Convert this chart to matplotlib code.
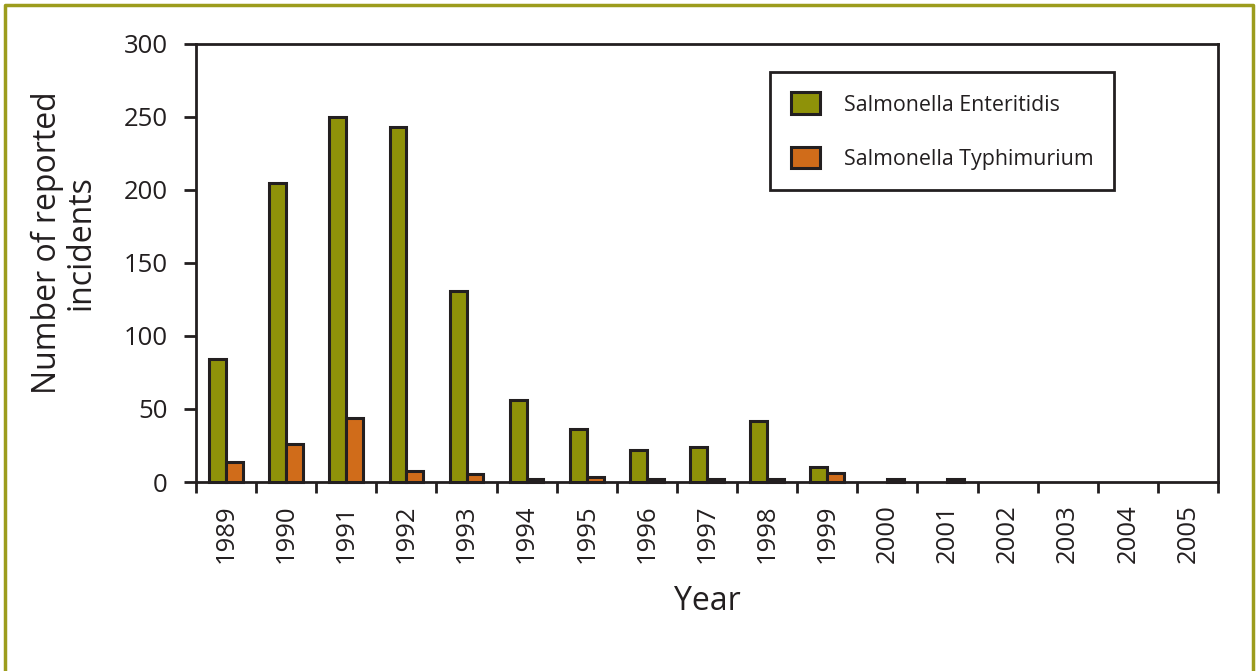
import matplotlib.pyplot as plt
import numpy as np
from matplotlib.lines import Line2D

plt.rcParams["font.family"] = ["Open Sans", "DejaVu Sans"]

# -------------------------
# Data
# -------------------------
years = ["1989", "1990", "1991", "1992", "1993", "1994", "1995", "1996", "1997",
         "1998", "1999", "2000", "2001", "2002", "2003", "2004", "2005"]
enteritidis = [84, 205, 250, 243, 131, 56, 36, 22, 24, 42, 10, 0, 0, 0, 0, 0, 0]
typhimurium = [14, 26, 44, 7.5, 5.5, 2, 3.5, 2, 2, 2, 6, 2, 2, 0, 0, 0, 0]
series_names = ["Salmonella Enteritidis", "Salmonella Typhimurium"]

# colours
ink = "#231f20"
green = "#8f9209"
orange = "#d06c1a"
olive_border = "#9c9c1c"

fig = plt.figure(figsize=(12.57, 6.71), dpi=100)
ax = fig.add_axes([196 / 1257, 1 - 482 / 671, 1022 / 1257, 438 / 671])

x = np.arange(len(years))
w = 0.28


def draw_series(vals, offset, colour, name):
    vals = np.asarray(vals, dtype=float)
    keep = vals > 0  # zero years get no mark at all in the original
    ax.bar(x[keep] + offset, vals[keep], w, color=colour, edgecolor=ink,
           linewidth=2.2, label=name, zorder=3, clip_on=False)


draw_series(enteritidis, -w / 2, green, series_names[0])
draw_series(typhimurium, w / 2, orange, series_names[1])

ax.set_xlim(-0.5, len(years) - 0.5)
ax.set_ylim(0, 300)
ax.set_yticks(range(0, 301, 50))

# boundaries carry the tick marks, centres carry the labels
ax.set_xticks(np.arange(len(years) + 1) - 0.5)
ax.set_xticklabels([])
ax.set_xticks(x, minor=True)
ax.set_xticklabels(years, minor=True, rotation=90, fontsize=18.5, color=ink)
ax.tick_params(axis="x", which="major", direction="out", length=8, width=2, color=ink)
ax.tick_params(axis="x", which="minor", length=0, pad=16)
ax.tick_params(axis="y", direction="out", length=8.5, width=2, color=ink,
               labelsize=18.5, labelcolor=ink, pad=12)

for s in ax.spines.values():
    s.set_color(ink)
    s.set_linewidth(2)

ax.set_xlabel("Year", fontsize=23, color=ink, labelpad=16)
fig.text(64 / 1257, 1 - 243 / 671, "Number of reported\nincidents", rotation=90,
         ha="center", va="center", fontsize=23, color=ink, linespacing=1.0)

leg = ax.legend(loc="upper left", bbox_to_anchor=(0.562, 0.936), frameon=True,
                fancybox=False, edgecolor=ink, fontsize=15.4, handlelength=1.35,
                handleheight=1.2, handletextpad=1.15, labelspacing=1.45,
                borderpad=0.95, borderaxespad=0)
leg.get_frame().set_linewidth(2)
leg.get_frame().set_alpha(1)
for t in leg.get_texts():
    t.set_color(ink)

# olive frame round the figure (open at the bottom)
bx0, bx1, by1 = 4.5 / 1257, 1252.5 / 1257, 1 - 4.5 / 671
fig.add_artist(Line2D([bx0, bx0, bx1, bx1], [0, by1, by1, 0], color=olive_border,
                      linewidth=2.5, transform=fig.transFigure))

fig.savefig("out.png", dpi=100)
